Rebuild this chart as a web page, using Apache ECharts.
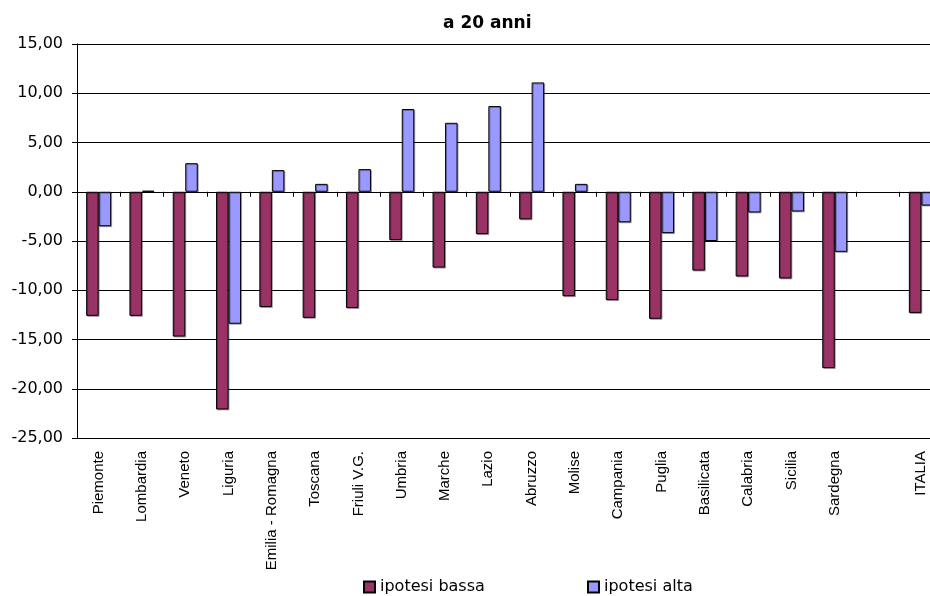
<!DOCTYPE html>
<html>
<head>
<meta charset="utf-8">
<style>
  html, body { margin: 0; padding: 0; background: #fff; }
  #chart { width: 930px; height: 596px; }
</style>
<script src="https://cdn.jsdelivr.net/npm/echarts@6/dist/echarts.min.js"></script>
</head>
<body>
<div id="chart"></div>
<script>
// categorie (regioni) - lo spazio vuoto prima di ITALIA e' voluto
var regioni = ['Piemonte', 'Lombardia', 'Veneto', 'Liguria', 'Emilia - Romagna', 'Toscana',
  'Friuli V.G.', 'Umbria', 'Marche', 'Lazio', 'Abruzzo', 'Molise', 'Campania', 'Puglia',
  'Basilicata', 'Calabria', 'Sicilia', 'Sardegna', '', 'ITALIA']

var ipotesiBassa = [-12.6, -12.6, -14.7, -22.1, -11.7, -12.8, -11.8, -4.9, -7.7, -4.3, -2.8,
  -10.6, -11.0, -12.9, -8.0, -8.6, -8.8, -17.9, null, -12.3]
var ipotesiAlta = [-3.5, 0.1, 2.9, -13.4, 2.2, 0.8, 2.3, 8.4, 7.0, 8.7, 11.1,
  0.8, -3.1, -4.2, -5.0, -2.1, -2.0, -6.1, null, -1.4]

var yMin = -25
var yMax = 15
var yStep = 5

var chart = echarts.init(document.getElementById('chart'), null, { renderer: 'canvas' })

var barStyle = function(color) {
  return {
    color: color,
    borderColor: '#000',
    borderWidth: 1,
    shadowColor: 'rgba(0,0,0,0.3)',
    shadowOffsetX: 1,
    shadowOffsetY: 1,
    shadowBlur: 0
  }
}

var legendText = { fontFamily: 'DejaVu Sans', fontSize: 16, color: '#000' }

chart.setOption({
  animation: false,
  backgroundColor: '#fff',
  title: {
    text: 'a 20 anni',
    left: 443,
    top: 15,
    padding: 0,
    textStyle: {
      fontFamily: 'DejaVu Sans',
      fontSize: 17,
      fontWeight: 'bold',
      color: '#000'
    }
  },
  legend: [{
    data: ['ipotesi bassa'],
    left: 363,
    top: 579,
    padding: 0,
    itemWidth: 11,
    itemHeight: 11,
    icon: 'rect',
    textStyle: legendText
  }, {
    data: ['ipotesi alta'],
    left: 587,
    top: 579,
    padding: 0,
    itemWidth: 11,
    itemHeight: 11,
    icon: 'rect',
    textStyle: legendText
  }],
  grid: {
    // l'area del grafico esce a destra oltre il bordo, come nell'originale
    left: 77,
    top: 44,
    width: 866,
    bottom: 158,
    containLabel: false,
    outerBoundsMode: 'none'
  },
  xAxis: [{
    // asse sullo zero: solo linea e tacche
    type: 'category',
    data: regioni,
    axisLine: { onZero: true, lineStyle: { color: '#000', width: 1 } },
    axisTick: { show: true, interval: 0, length: 5, lineStyle: { color: '#000' } },
    axisLabel: { show: true, interval: 0, formatter: function() { return '' } },
    splitLine: { show: false }
  }, {
    // etichette in basso
    type: 'category',
    data: regioni,
    position: 'bottom',
    axisLine: { show: false, onZero: false },
    axisTick: { show: false },
    axisLabel: {
      interval: 0,
      rotate: 90,
      margin: 13,
      fontFamily: 'Liberation Sans',
      fontSize: 15,
      color: '#000'
    }
  }],
  yAxis: {
    type: 'value',
    min: yMin,
    max: yMax,
    interval: yStep,
    axisLine: { show: true, lineStyle: { color: '#000' } },
    axisTick: { show: true, length: 5, lineStyle: { color: '#000' } },
    axisLabel: {
      margin: 14,
      fontFamily: 'DejaVu Sans',
      fontSize: 16,
      color: '#000',
      formatter: function(v) {
        return v.toFixed(2).replace('.', ',')
      }
    },
    splitLine: { show: true, lineStyle: { color: '#000', width: 1 } }
  },
  series: [{
    name: 'ipotesi bassa',
    type: 'bar',
    xAxisIndex: 0,
    data: ipotesiBassa,
    barWidth: 12.5,
    barGap: '0%',
    itemStyle: barStyle('#993366')
  }, {
    name: 'ipotesi alta',
    type: 'bar',
    xAxisIndex: 0,
    data: ipotesiAlta,
    barWidth: 12.5,
    barGap: '0%',
    itemStyle: barStyle('#9999FF')
  }]
})
</script>
</body>
</html>
